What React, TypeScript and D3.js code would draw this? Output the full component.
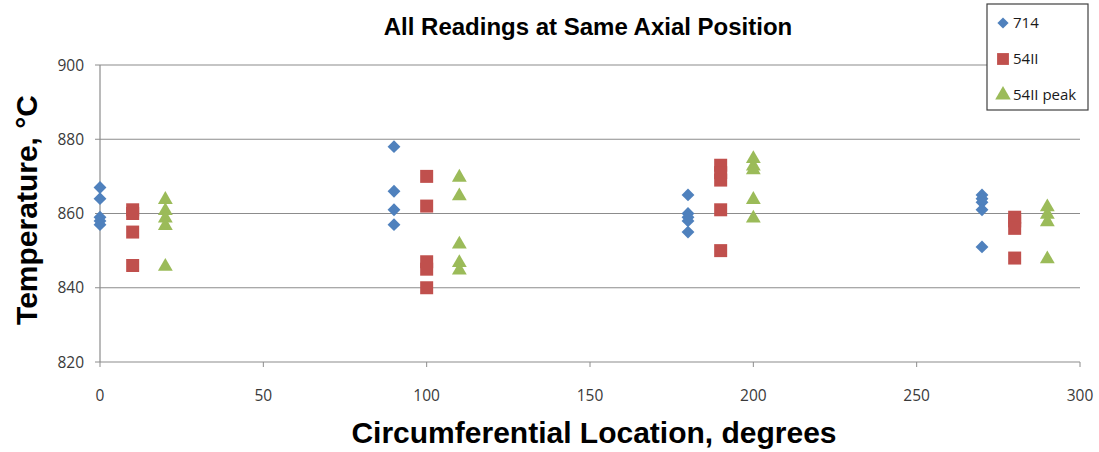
import React, { useEffect } from 'react';
import * as d3 from 'd3';

// Readings (x = circumferential location in degrees, y = temperature °C)
const s714X = [0, 0, 0, 0, 0, 90, 90, 90, 90, 180, 180, 180, 180, 180, 270, 270, 270, 270, 270];
const s714Y = [867, 864, 859, 858, 857, 878, 866, 861, 857, 865, 860, 859, 858, 855, 865, 864, 863, 861, 851];

const s54X = [10, 10, 10, 10, 100, 100, 100, 100, 100, 190, 190, 190, 190, 190, 280, 280, 280, 280];
const s54Y = [861, 860, 855, 846, 870, 862, 847, 845, 840, 873, 871, 869, 861, 850, 859, 858, 856, 848];

const peakX = [20, 20, 20, 20, 20, 110, 110, 110, 110, 110, 200, 200, 200, 200, 200, 290, 290, 290, 290];
const peakY = [864, 861, 859, 857, 846, 870, 865, 852, 847, 845, 875, 873, 872, 864, 859, 862, 860, 858, 848];

const xTicks = [0, 50, 100, 150, 200, 250, 300];
const yTicks = [820, 840, 860, 880, 900];

const seriesNames = ['714', '54II', '54II peak'];

export default function App() {
  useEffect(() => {
    document.body.style.margin = '0';
  }, []);

  const width = 1099;
  const height = 452;
  const margin = { top: 65, right: 19, bottom: 90, left: 100 };
  const innerW = width - margin.left - margin.right;
  const innerH = height - margin.top - margin.bottom;

  const x = d3.scaleLinear().domain([0, 300]).range([0, innerW]);
  const y = d3.scaleLinear().domain([820, 900]).range([innerH, 0]);

  const colors = ['#4F81BD', '#C0504D', '#9BBB59'];
  const shapes = [d3.symbolDiamond2, d3.symbolSquare, d3.symbolTriangle];
  const sizes = [105, 169, 95];
  const legendSizes = [80, 140, 105];

  const series = [
    s714X.map((v, i) => ({ x: v, y: s714Y[i] })),
    s54X.map((v, i) => ({ x: v, y: s54Y[i] })),
    peakX.map((v, i) => ({ x: v, y: peakY[i] })),
  ];

  const sym = (k: number, sz: number) => d3.symbol().type(shapes[k]).size(sz)() as string;
  const gridColor = '#8c8c8c';
  const tickFont = '"Open Sans", "Liberation Sans", sans-serif';
  const titleFont = '"Liberation Sans", Arial, sans-serif';

  return (
    <svg width={width} height={height} style={{ display: 'block', background: '#fff' }}>
      <text x={588} y={35} textAnchor="middle" fontFamily={titleFont}
        fontWeight="bold" fontSize={24} fill="#000">All Readings at Same Axial Position</text>

      <g transform={`translate(${margin.left},${margin.top})`}>
        {/* horizontal gridlines */}
        {yTicks.map(t => (
          <line key={`g${t}`} x1={0} x2={innerW} y1={y(t)} y2={y(t)} stroke={gridColor} strokeWidth={1.2} />
        ))}
        {/* y axis */}
        <line x1={0} x2={0} y1={0} y2={innerH} stroke={gridColor} strokeWidth={1.2} />
        {yTicks.map(t => (
          <g key={`y${t}`}>
            <line x1={-5} x2={0} y1={y(t)} y2={y(t)} stroke={gridColor} />
            <text x={-16} y={y(t)} dy="0.36em" textAnchor="end" fontFamily={tickFont} fontSize={15.5} fill="#3a3a3a">{t}</text>
          </g>
        ))}
        {/* x axis ticks */}
        {xTicks.map(t => (
          <g key={`x${t}`}>
            <line x1={x(t)} x2={x(t)} y1={innerH} y2={innerH + 5} stroke={gridColor} />
            <text x={x(t)} y={innerH + 39} textAnchor="middle" fontFamily={tickFont} fontSize={15.5} fill="#3a3a3a">{t}</text>
          </g>
        ))}

        {/* markers */}
        {series.map((pts, k) => (
          <g key={`s${k}`} fill={colors[k]}>
            {pts.map((d, i) => (
              <path key={i} d={sym(k, sizes[k])} transform={`translate(${x(d.x)},${y(d.y) + (k === 2 ? 1 : 0)})`} />
            ))}
          </g>
        ))}
      </g>

      {/* axis titles */}
      <text transform="translate(37,210) rotate(-90)" textAnchor="middle"
        fontFamily={titleFont} fontWeight="bold" fontSize={30} fill="#000">Temperature, °C</text>
      <text x={594} y={443} textAnchor="middle"
        fontFamily={titleFont} fontWeight="bold" fontSize={30} fill="#000">Circumferential Location, degrees</text>

      {/* legend */}
      <g transform="translate(987,4)">
        <rect x={0} y={0} width={101} height={106} fill="#fff" stroke="#404040" strokeWidth={1.2} />
        {seriesNames.map((n, k) => (
          <g key={n} transform={`translate(0,${19 + k * 36})`}>
            <path d={sym(k, legendSizes[k])} transform="translate(16,0)" fill={colors[k]} />
            <text x={26} y={0} dy="0.36em" fontFamily={tickFont} fontSize={15} fill="#1a1a1a">{n}</text>
          </g>
        ))}
      </g>
    </svg>
  );
}
